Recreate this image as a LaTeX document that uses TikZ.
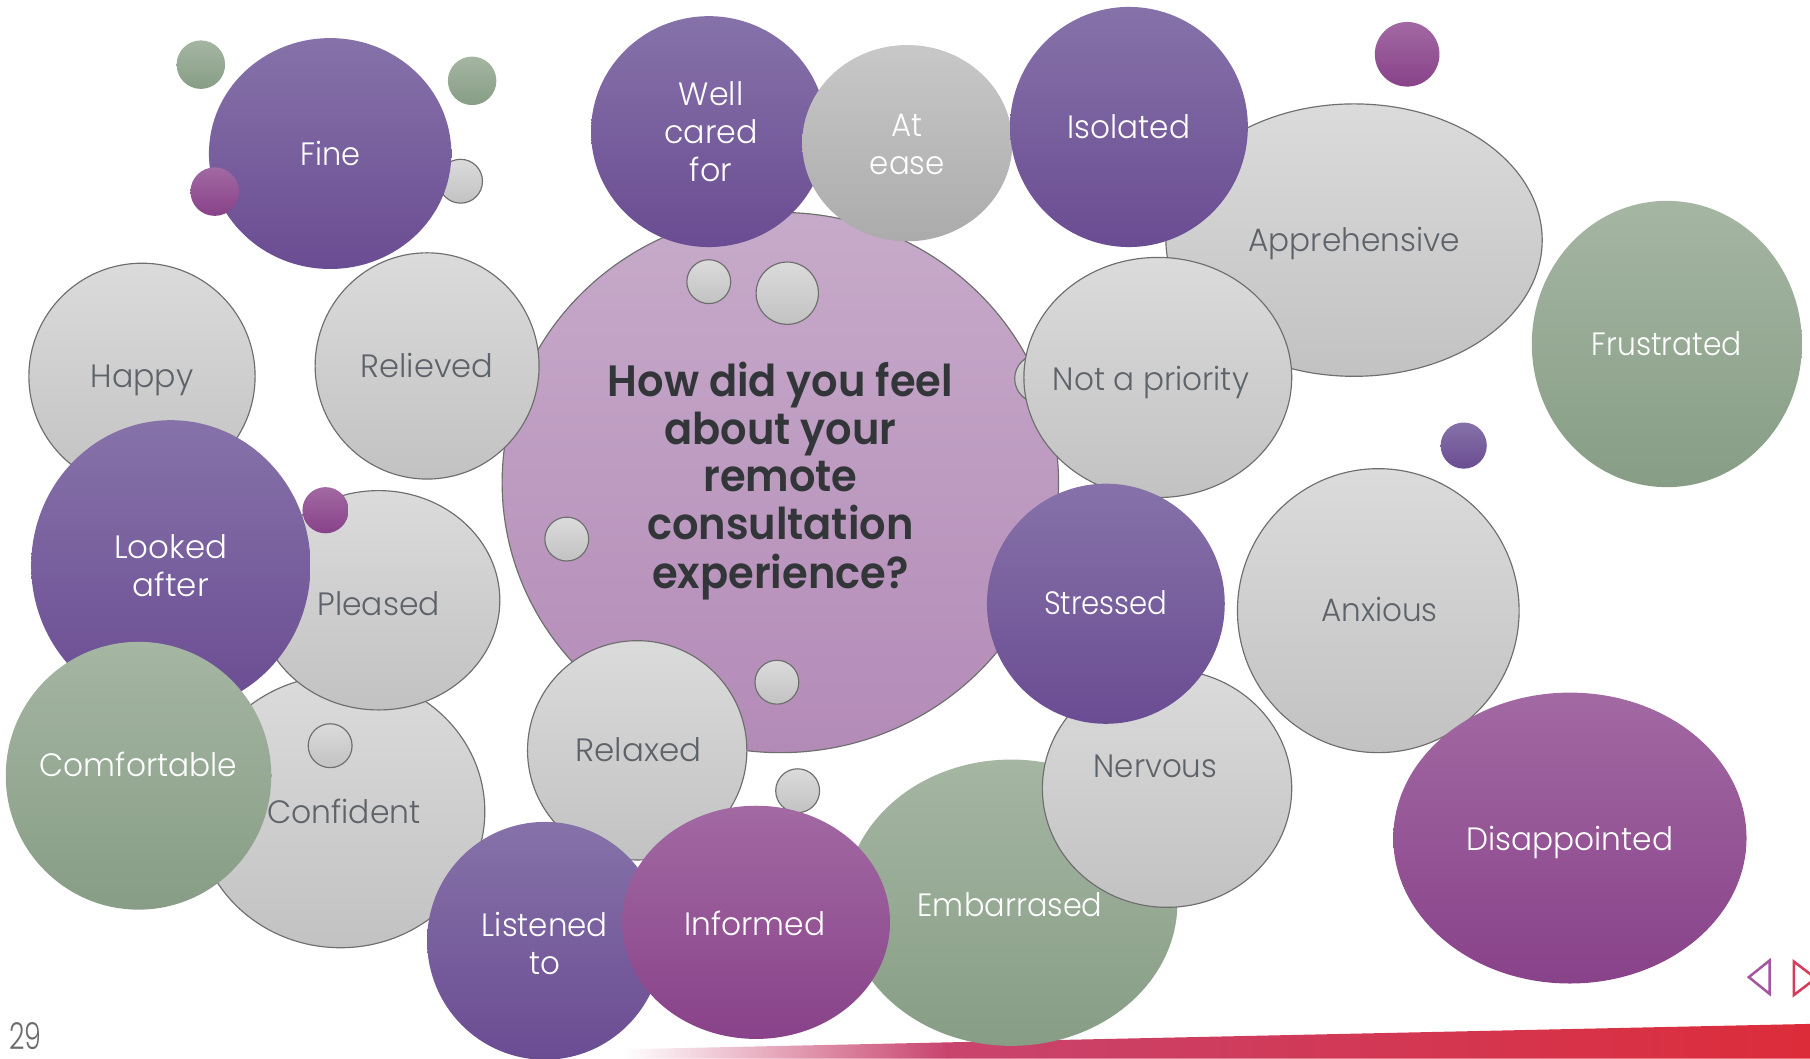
\documentclass[tikz,border=0pt]{standalone}
\usepackage{fontspec}
\setmainfont{Poppins}[UprightFont=* Light, BoldFont=* SemiBold]
\usetikzlibrary{shapes.geometric}
\definecolor{purT}{HTML}{8672A9}
\definecolor{purB}{HTML}{6A4C92}
\definecolor{magT}{HTML}{A269A3}
\definecolor{magB}{HTML}{884289}
\definecolor{grnT}{HTML}{A5B6A3}
\definecolor{grnB}{HTML}{879D85}
\definecolor{gryT}{HTML}{DBDBDB}
\definecolor{gryB}{HTML}{C2C2C2}
\definecolor{gryO}{HTML}{6E6E6E}
\definecolor{gryTx}{HTML}{5E6369}
\definecolor{aeT}{HTML}{C8C8C8}
\definecolor{aeB}{HTML}{ABABAB}
\definecolor{ctrT}{HTML}{C7AACA}
\definecolor{ctrB}{HTML}{B38BB7}
\definecolor{qTx}{HTML}{333639}
\definecolor{barP}{HTML}{C8446E}
\definecolor{barR}{HTML}{DC2C3A}
\definecolor{arL}{HTML}{A457A0}
\definecolor{arR}{HTML}{D83A5A}
\definecolor{numTx}{HTML}{6B6B6B}
\newsavebox\lblbox
\newlength\lblw
\newcommand\fitw[2]{\sbox\lblbox{#2}\setlength\lblw{\wd\lblbox}\pgfmathsetmacro\lblsx{#1/\lblw}\scalebox{\lblsx}[1]{\usebox\lblbox}}
\newcommand\lab[2]{\fitw{#1}{\begin{tabular}{@{}c@{}}#2\end{tabular}}}
\newcommand\bub[6]{\node[#1, minimum width=#5pt, minimum height=#6pt] (#2) at (#3,#4) {};}
\tikzset{
  bub/.style={ellipse, inner sep=0pt, outer sep=0pt},
  purp/.style={bub, top color=purT, bottom color=purB},
  mag/.style={bub, top color=magT, bottom color=magB},
  grn/.style={bub, top color=grnT, bottom color=grnB},
  gry/.style={bub, top color=gryT, bottom color=gryB, draw=gryO, line width=0.5pt},
  ae/.style={bub, top color=aeT, bottom color=aeB},
  ctr/.style={bub, top color=ctrT, bottom color=ctrB, draw=gryO, line width=0.5pt},
  lbl/.style={inner sep=0pt, font=\fontsize{14}{16.5}\selectfont},
  wl/.style={lbl, text=white},
  gl/.style={lbl, text=gryTx},
}
\begin{document}
\begin{tikzpicture}[x=0.5pt, y=-0.5pt]
\useasboundingbox (0,0) rectangle (1568,917);
\fill[white] (0,0) rectangle (1568,917);
% bottom band, page number, navigation arrows
\shade[left color=white, right color=barP] (540,917) -- (540,909) -- (820.5,903) -- (820.5,917) -- cycle;
\shade[left color=barP, right color=barR] (820,917) -- (820,903) -- (1568,887) -- (1568,917) -- cycle;
\node[inner sep=0pt, anchor=base, font=\fontsize{16}{19}\selectfont, text=numTx] (pnum) at (22,909) {\fitw{14}{29}};
\draw[arL, line width=1.1pt] (1533,832) -- (1533,861) -- (1515,846.5) -- cycle;
\draw[arR, line width=1.1pt] (1554,833) -- (1554,862) -- (1573,847.5) -- cycle;
% bubbles, back to front
\bub{gry}{happy}{123}{326}{98}{98}
\bub{gry}{confident}{295}{703}{125}{118}
\bub{gry}{sgA}{286}{646}{19}{19}
\bub{gry}{pleased}{328}{520}{105}{95}
\bub{purp}{looked}{148}{490}{121}{126}
\bub{mag}{smA}{282}{442}{20}{20}
\bub{grn}{comfortable}{120}{672}{115}{116}
\bub{ctr}{question}{676}{418}{241}{234}
\bub{gry}{sgB}{614}{244}{19}{19}
\bub{gry}{sgC}{682}{254}{27}{27}
\bub{gry}{sgD}{491}{467}{19}{19}
\bub{gry}{sgE}{673}{591}{19}{19}
\bub{gry}{relieved}{370}{317}{97}{98}
\bub{gry}{relaxed}{552}{650}{95}{95}
\bub{gry}{sgF}{691}{685}{19}{19}
\bub{purp}{listened}{472}{815}{102}{103}
\bub{grn}{embarrassed}{876}{782}{144}{124}
\bub{mag}{informed}{655}{799}{116}{101}
\bub{gry}{apprehensive}{1173}{208}{163}{118}
\bub{gry}{sgG}{900}{328}{21}{21}
\bub{gry}{notprio}{1003}{327}{116}{104}
\bub{gry}{nervous}{1011}{683}{108}{103}
\bub{purp}{stressed}{958}{523}{103}{104}
\bub{gry}{anxious}{1194}{529}{122}{123}
\bub{mag}{disappointed}{1360}{726}{153}{126}
\bub{grn}{frustrated}{1444}{298}{117}{124}
\bub{purp}{spA}{1268}{386}{20}{20}
\bub{mag}{smB}{1219}{47}{28}{28}
\bub{gry}{sgH}{399}{157}{19}{19}
\bub{purp}{fine}{286}{133}{105}{100}
\bub{grn}{sgrA}{174}{56}{21}{21}
\bub{grn}{sgrB}{409}{70}{21}{21}
\bub{mag}{smC}{186}{166}{21}{21}
\bub{purp}{wellcared}{614}{114}{102}{100}
\bub{ae}{atease}{786}{124}{91}{85}
\bub{purp}{isolated}{978}{110}{103}{104}
% labels
\node[lbl, font=\fontsize{19}{20.5}\selectfont\bfseries, text=qTx] (qT) at (676,418) {\lab{149.5}{How did you feel\\about your\\remote\\consultation\\experience?}};
\node[wl] (fineT) at (286,137) {\lab{26}{Fine}};
\node[wl] (wellT) at (616,118) {\lab{40.5}{Well\\cared\\for}};
\node[wl] (ateaseT) at (786,128) {\lab{32.5}{At\\ease}};
\node[wl] (isolatedT) at (978,113) {\lab{53}{Isolated}};
\node[gl] (apprT) at (1173,211) {\lab{91.5}{Apprehensive}};
\node[wl] (frusT) at (1444,301) {\lab{65}{Frustrated}};
\node[gl] (napT) at (997,332) {\lab{85}{Not a priority}};
\node[gl] (happyT) at (123,329) {\lab{44.5}{Happy}};
\node[gl] (relievedT) at (370,320) {\lab{57.5}{Relieved}};
\node[wl] (lookedT) at (148,494) {\lab{49}{Looked\\after}};
\node[gl] (pleasedT) at (328,527) {\lab{53}{Pleased}};
\node[gl] (confidentT) at (298,707) {\lab{66.5}{Confident}};
\node[wl] (comfT) at (120,666) {\lab{85.5}{Comfortable}};
\node[gl] (relaxedT) at (553,653) {\lab{54.5}{Relaxed}};
\node[wl] (stressedT) at (958,526) {\lab{53.5}{Stressed}};
\node[gl] (anxiousT) at (1195,532) {\lab{50.5}{Anxious}};
\node[gl] (nervousT) at (1001,667) {\lab{53.5}{Nervous}};
\node[wl] (embT) at (875,787) {\lab{80}{Embarrased}};
\node[wl] (informedT) at (654,804) {\lab{61}{Informed}};
\node[wl] (listenedT) at (472,821) {\lab{54.5}{Listened\\to}};
\node[wl] (disT) at (1360,730) {\lab{89.5}{Disappointed}};
\end{tikzpicture}
\end{document}
